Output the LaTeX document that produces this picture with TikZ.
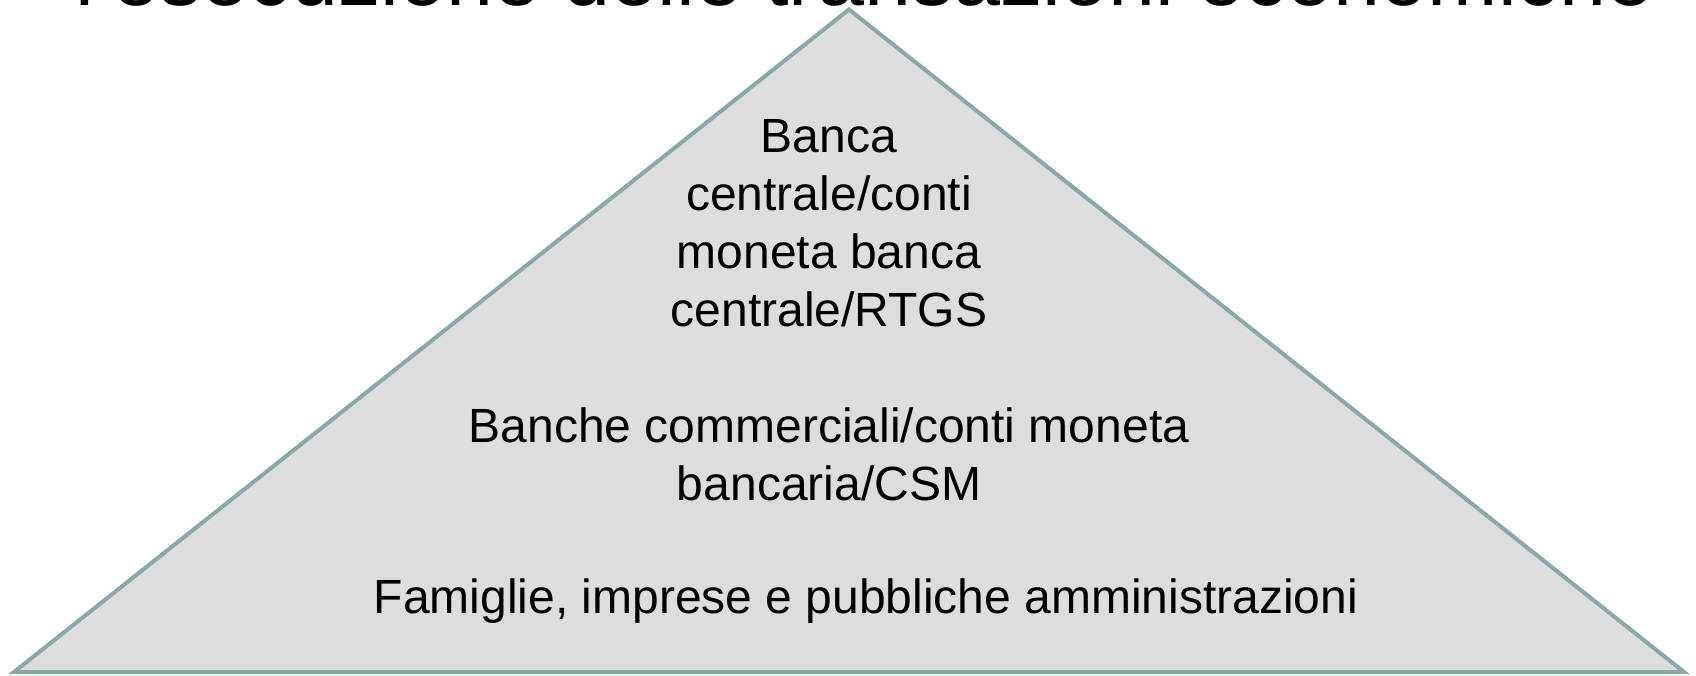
\documentclass[tikz,border=0pt]{standalone}
\usepackage{fontspec}
\setmainfont{Liberation Sans}
\definecolor{edgecol}{HTML}{8BA7AA}
\definecolor{fillcol}{HTML}{DDDDDD}
\tikzset{
  txt/.style={anchor=base, inner sep=0pt, font=\fontsize{48}{58}\selectfont, text=black},
  ttl/.style={anchor=base west, inner sep=0pt, font=\fontsize{84.5}{100}\selectfont, text=black},
  pyramid/.style={draw=edgecol, fill=fillcol, line width=4pt, line join=miter}
}
\begin{document}
\begin{tikzpicture}[x=1pt,y=-1pt]
\useasboundingbox (0,0) rectangle (1696,675);
\clip (0,0) rectangle (1696,675);
\node[ttl] (title) at (75,5) {l'esecuzione delle transazioni economiche};
\coordinate (apex) at (849,9.5);
\coordinate (bl) at (14,672);
\coordinate (br) at (1684,672);
\draw[pyramid] (bl) -- (apex) -- (br) -- cycle;
\node[txt] (t1) at (829,152.5) {Banca};
\node[txt] (t2) at (829,210.5) {centrale/conti};
\node[txt] (t3) at (829,268.5) {moneta banca};
\node[txt] (t4) at (829,326.5) {centrale/RTGS};
\node[txt] (m1) at (829,442) {Banche commerciali/conti moneta};
\node[txt] (m2) at (829,500) {bancaria/CSM};
\node[txt] (b1) at (866,613) {Famiglie, imprese e pubbliche amministrazioni};
\end{tikzpicture}
\end{document}
